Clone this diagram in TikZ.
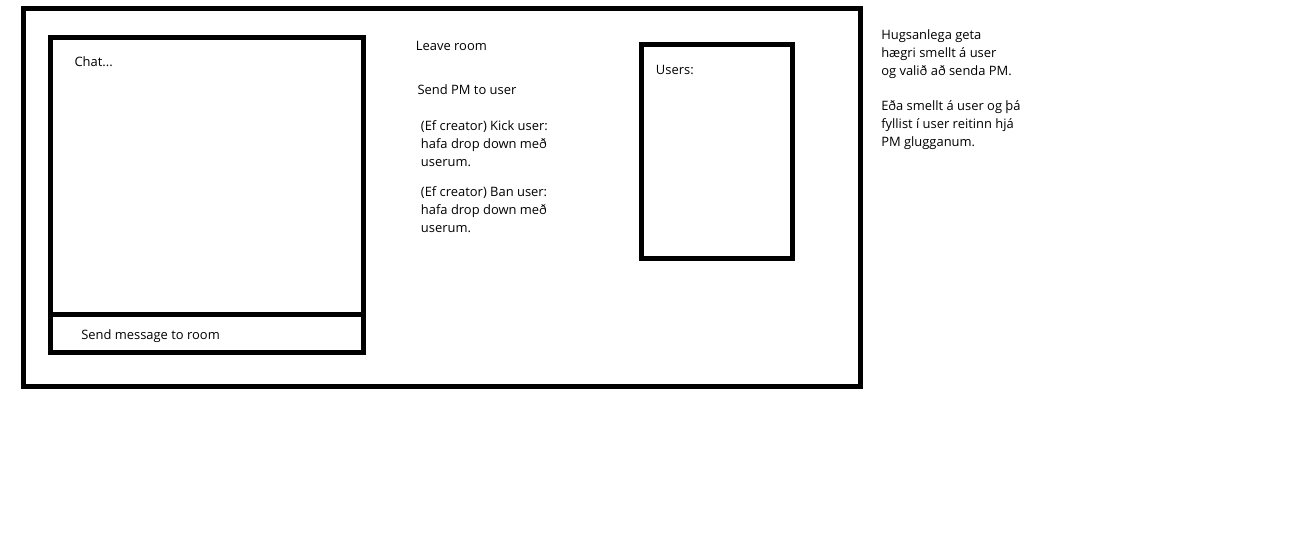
\documentclass[tikz,border=0pt]{standalone}
\usepackage{fontspec}
\setmainfont{Open Sans}
\begin{document}
\begin{tikzpicture}[x=0.75pt, y=-0.75pt,
  frame/.style={line width=3.75pt, line join=miter},
  txt/.style={anchor=base west, inner sep=0pt, align=left, font=\fontsize{9.7}{13.3}\selectfont}]
\useasboundingbox (0,0) rectangle (1294,539);
% window, chat pane and users pane
\draw[frame] (23.5,8.5) rectangle (860.5,386.5);
\draw[frame] (50,37.5) rectangle (363.5,352.5);
\draw[frame] (50,314.5) -- (363.5,314.5);
\draw[frame] (641,44.5) rectangle (792.5,258.5);
% labels inside the panes
\node[txt] (chat) at (74.3,66.7) {Chat...};
\node[txt] (sendmsg) at (81,339) {Send message to room};
\node[txt] (users) at (655.7,74.3) {Users:};
% actions column (base = last line)
\node[txt] (leave) at (415.7,50) {Leave room};
\node[txt] (sendpm) at (417.3,94.3) {Send PM to user};
\node[txt] (kick) at (420.7,166) {(Ef creator) Kick user:\\hafa drop down með\\userum.};
\node[txt] (ban) at (420.7,232) {(Ef creator) Ban user:\\hafa drop down með\\userum.};
% side note
\node[txt] (note) at (881,146) {Hugsanlega geta\\hægri smellt á user\\og valið að senda PM.\\[13.3pt]Eða smellt á user og þá\\fyllist í user reitinn hjá\\PM glugganum.};
\end{tikzpicture}
\end{document}
